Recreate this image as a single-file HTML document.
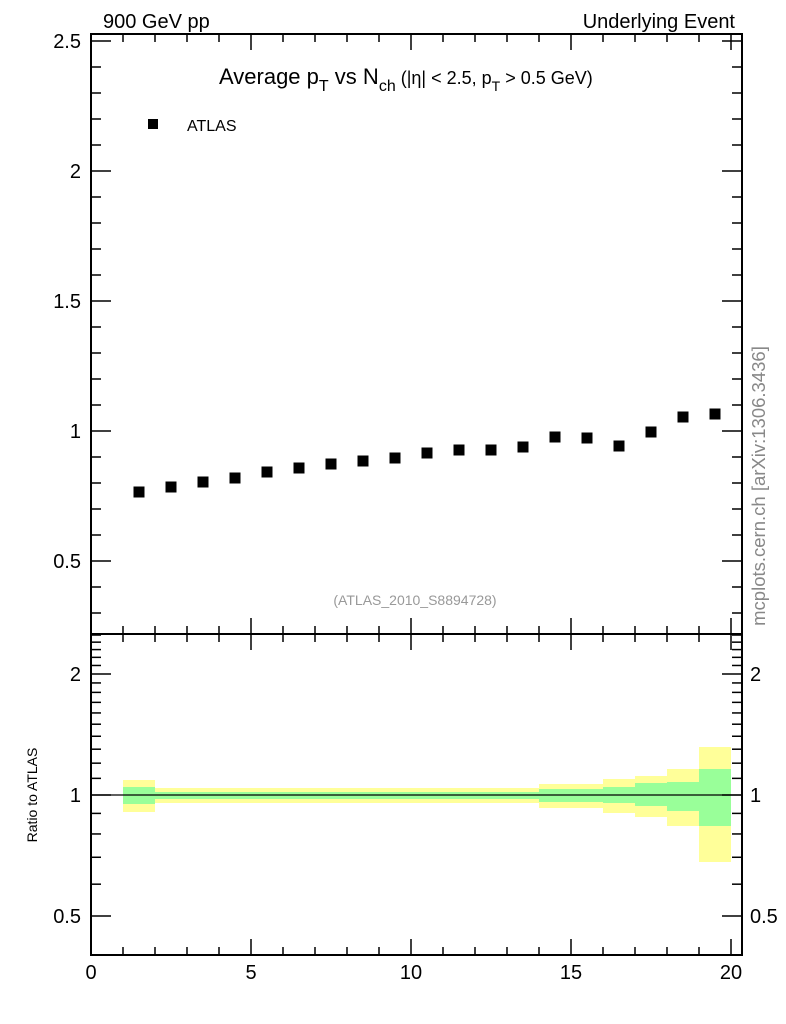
<!DOCTYPE html>
<html><head><meta charset="utf-8"><style>body{margin:0;background:#fff}svg{display:block;font-family:"Liberation Sans",sans-serif}</style></head><body>
<svg id="s" width="786" height="1024" xmlns="http://www.w3.org/2000/svg">
<rect width="786" height="1024" fill="#fff"/>
<g id="bands"></g>
<line x1="91" y1="795" x2="742" y2="795" stroke="#000" stroke-width="1.3"/>
<g id="ticks" stroke="#000" stroke-width="1.5"></g>
<rect x="91" y="34" width="651" height="600" fill="none" stroke="#000" stroke-width="2"/>
<rect x="91" y="634" width="651" height="321" fill="none" stroke="#000" stroke-width="2"/>
<g id="pts"></g>
<g font-size="20" fill="#000">
<text x="103" y="28">900 GeV pp</text>
<text x="735" y="28" text-anchor="end">Underlying Event</text>
<text x="219" y="84" font-size="22">Average p<tspan font-size="16" dy="7">T</tspan><tspan dy="-7"> vs N</tspan><tspan font-size="16" dy="7">ch</tspan><tspan font-size="18" dy="-7"> (|η| &lt; 2.5, p</tspan><tspan font-size="14" dy="7">T</tspan><tspan font-size="18" dy="-7"> &gt; 0.5 GeV)</tspan></text>
<text x="187" y="131" font-size="16">ATLAS</text>
</g>
<rect x="148" y="119" width="10" height="10" fill="#000"/>
<text x="415" y="605" font-size="14" fill="#999" text-anchor="middle">(ATLAS_2010_S8894728)</text>
<text transform="translate(765,486) rotate(-90)" font-size="18.5" fill="#888" text-anchor="middle">mcplots.cern.ch [arXiv:1306.3436]</text>
<text transform="translate(37,795) rotate(-90)" font-size="14" text-anchor="middle">Ratio to ATLAS</text>
<g font-size="20" id="labels"></g>
</svg>
<script>
const NS="http://www.w3.org/2000/svg";
function el(p,t,a,txt){const e=document.createElementNS(NS,t);for(const k in a)e.setAttribute(k,a[k]);if(txt!==undefined)e.textContent=txt;document.getElementById(p).appendChild(e);}
const X=v=>91+32*v;
const b=[[1,2,780,812,787,804],[2,14,788,803,792,799],[14,16,784,808,789,802],[16,17,779,813,787,803],[17,18,776,817,783,806],[18,19,769,826,782,811],[19,20,747,862,769,826]];
b.forEach(r=>{el("bands","rect",{x:X(r[0]),y:r[2],width:X(r[1])-X(r[0]),height:r[3]-r[2],fill:"#ffff99"});el("bands","rect",{x:X(r[0]),y:r[4],width:X(r[1])-X(r[0]),height:r[5]-r[4],fill:"#99ff99"});});
const py=[492,487,482,478,472,468,464,461,458,453,450,450,447,437,438,446,432,417,414];
py.forEach((y,i)=>el("pts","rect",{x:X(i+1.5)-5.5,y:y-5.5,width:11,height:11,fill:"#000"}));
for(let v=0;v<=20;v++){const x=X(v),L=v%5==0?16:8;
[[34,1],[634,-1],[634,1],[955,-1]].forEach(([y,d])=>el("ticks","line",{x1:x,y1:y,x2:x,y2:y+d*L}));}
const MY=v=>431-260*(v-1);
for(let i=3;i<=25;i++){const v=i/10,y=MY(v),L=(i%5==0)?20:10;
el("ticks","line",{x1:91,y1:y,x2:91+L,y2:y});el("ticks","line",{x1:742,y1:y,x2:742-L,y2:y});}
[[2.5,"2.5"],[2,"2"],[1.5,"1.5"],[1,"1"],[0.5,"0.5"]].forEach(([v,t])=>el("labels","text",{x:81,y:MY(v)+7,"text-anchor":"end"},t));
const RY=v=>795-402*Math.log10(v);
for(let i=4;i<=25;i++){const v=i/10,y=RY(v);if(y<635||y>954)continue;const L=(i==5||i==10||i==20)?20:10;
el("ticks","line",{x1:91,y1:y,x2:91+L,y2:y});el("ticks","line",{x1:742,y1:y,x2:742-L,y2:y});}
[[2,"2"],[1,"1"],[0.5,"0.5"]].forEach(([v,t])=>{el("labels","text",{x:81,y:RY(v)+7,"text-anchor":"end"},t);el("labels","text",{x:750,y:RY(v)+7},t);});
[0,5,10,15,20].forEach(v=>el("labels","text",{x:X(v),y:979,"text-anchor":"middle"},String(v)));
</script>
</body></html>
